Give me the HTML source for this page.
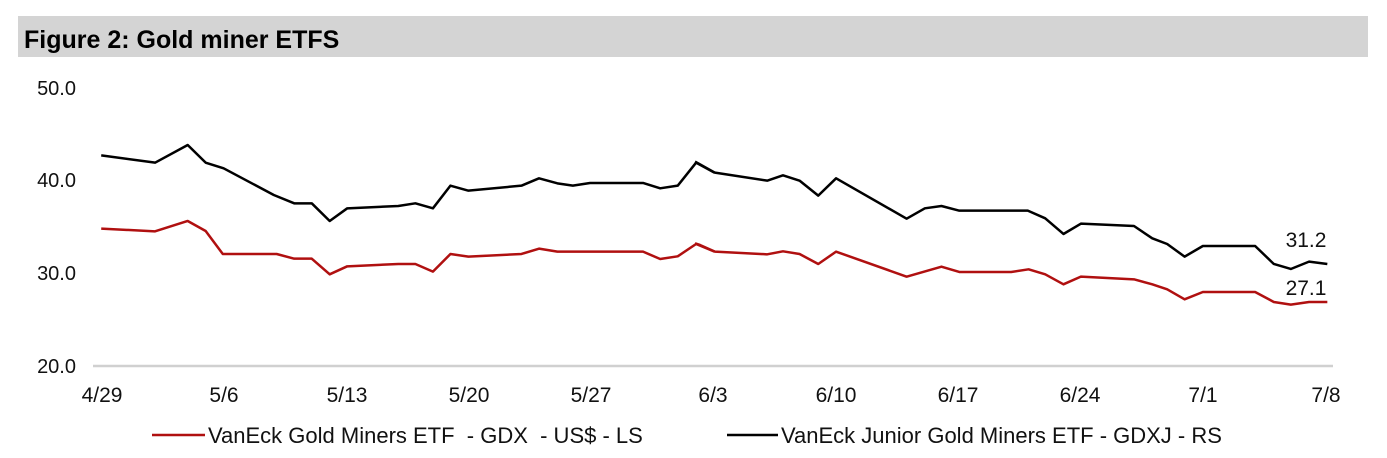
<!DOCTYPE html>
<html><head><meta charset="utf-8"><style>
body{margin:0;background:#fff;width:1387px;height:453px;overflow:hidden;font-family:"Liberation Sans",Arial,sans-serif}
text{white-space:pre}
</style></head><body>
<svg width="1387" height="453" xmlns="http://www.w3.org/2000/svg" font-family="Liberation Sans, Arial, sans-serif" xml:space="preserve">
<rect x="18" y="16" width="1350" height="41" fill="#d4d4d4"/>
<text x="24" y="48" font-size="25" font-weight="bold" fill="#000">Figure 2: Gold miner ETFS</text>
<g font-size="20" fill="#111" text-anchor="end">
<text x="76" y="95">50.0</text><text x="76" y="187">40.0</text><text x="76" y="280">30.0</text><text x="76" y="373">20.0</text>
</g>
<line x1="93" y1="366" x2="1333" y2="366" stroke="#d0d0d0" stroke-width="2.5"/>
<g font-size="21" fill="#111" text-anchor="middle">
<text x="102" y="402">4/29</text><text x="224" y="402">5/6</text><text x="347" y="402">5/13</text><text x="469" y="402">5/20</text><text x="591" y="402">5/27</text><text x="713" y="402">6/3</text><text x="836" y="402">6/10</text><text x="958" y="402">6/17</text><text x="1080" y="402">6/24</text><text x="1203" y="402">7/1</text><text x="1326" y="402">7/8</text>
</g>
<g fill="none" stroke-width="2.5" stroke-linejoin="round">
<g transform="translate(80,120) scale(0.408,0.3333)">
<polyline vector-effect="non-scaling-stroke" stroke="#000" points="52,106 184,128 264,75 308,128 352,145 475,225 525,250 568,250 612,303 655,265 780,258 822,250 865,265 908,197 952,212 1082,197 1125,175 1170,190 1208,197 1250,189 1380,189 1422,205 1465,197 1510,128 1555,158"/>
<polyline vector-effect="non-scaling-stroke" stroke="#b01010" points="52,326 184,334 264,303 308,333 350,402 482,402 525,416 568,416 612,463 655,439 780,432 822,432 865,455 908,402 952,410 1082,402 1125,386 1170,395 1380,395 1422,417 1465,409 1510,372 1555,395"/>
</g>
<g transform="translate(700,120) scale(0.4149,0.3333)">
<polyline vector-effect="non-scaling-stroke" stroke="#000" points="-12,125 0,133 36,158 162,182 200,166 240,182 285,227 328,175 498,296 542,265 582,258 625,272 790,272 832,295 876,342 918,311 1046,318 1090,355 1126,372 1168,410 1212,378 1338,378 1383,432 1424,447 1468,425 1512,432"/>
<polyline vector-effect="non-scaling-stroke" stroke="#b01010" points="-12,370 0,375 36,395 162,403 200,394 240,402 285,432 328,395 498,470 582,440 625,456 750,456 792,448 832,463 876,493 918,470 1046,478 1090,493 1126,508 1168,538 1212,516 1338,516 1383,546 1424,554 1468,546 1512,546"/>
</g>
</g>
<g font-size="21" fill="#111" text-anchor="middle">
<text x="1306" y="247">31.2</text><text x="1306" y="295">27.1</text>
</g>
<line x1="152" y1="435" x2="205" y2="435" stroke="#b01010" stroke-width="2.5"/>
<text x="208" y="443" font-size="22" fill="#111">VanEck Gold Miners ETF  - GDX  - US$ - LS</text>
<line x1="727" y1="435" x2="778" y2="435" stroke="#000" stroke-width="2.5"/>
<text x="781" y="443" font-size="22" fill="#111">VanEck Junior Gold Miners ETF - GDXJ - RS</text>
</svg>
</body></html>
